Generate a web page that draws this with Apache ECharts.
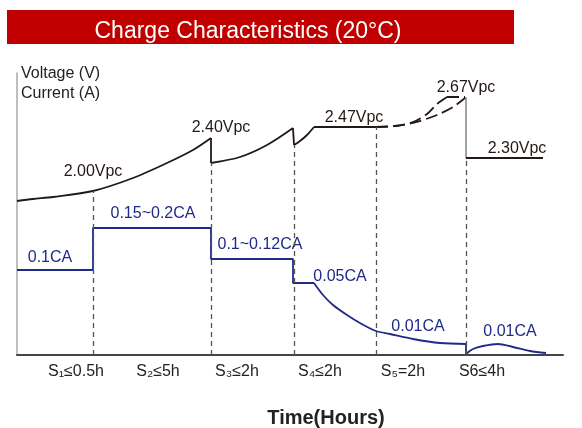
<!DOCTYPE html>
<html lang="en">
<head>
    <meta charset="UTF-8">
    <title>Charge Characteristics</title>
    <script src="https://cdn.jsdelivr.net/npm/echarts@6/dist/echarts.min.js"></script>
</head>
<style>
    html, body {
        margin: 0;
        background-color: #FFFFFF;
    }
</style>
<body>
<div id="main" style="width: 582px;height:428px;"></div>
<script>
    // stage labels and where they sit on the (schematic) time axis
    var stageNames = ['S₁≤0.5h', 'S₂≤5h', 'S₃≤2h', 'S₄≤2h', 'S₅=2h', 'S6≤4h'];
    var stageLabelPos = [59, 141, 220, 303, 386, 465];
    // stage boundaries (dashed) : [time, height of voltage curve there]
    var stageEdges = [[76, 164], [194, 192], [277, 210], [359, 228], [449, 197]];

    // voltage curve, piece by piece
    var voltS1S2 = [[0, 154], [16, 156], [36, 158], [76, 164], [116, 177], [150, 192], [176, 205], [194, 217]];
    var voltS3 = [[194, 192], [223, 198], [250, 210], [276, 227]];
    var voltS4rise = [[277, 210], [283, 214], [290, 220], [297, 228]];
    var voltS4flat = [[297, 228], [359, 228]];
    var voltS5a = [[359, 228], [378, 229], [396, 233], [410, 241], [420, 251], [430, 258]];
    var voltS5aTop = [[430, 258], [448, 258]];
    var voltS5b = [[359, 228], [378, 229], [396, 232], [420, 240], [436, 248], [448, 257]];
    var voltDrop = [[449, 258], [449, 197]];
    var voltS6 = [[449, 197], [526, 197]];

    // current curve
    var currStep = [[0, 85], [76, 85], [76, 127], [194, 127], [194, 96], [276, 96], [276, 72], [297, 72]];
    var currDecay = [[297, 72], [306, 60], [316, 50], [330, 40], [343, 32], [359, 24], [373, 21], [396, 16], [423, 12], [449, 11]];
    var currFloat = [[449, 1], [456, 6], [466, 9], [481, 11], [496, 8], [513, 4], [529, 2]];

    var voltNotes = [['2.00Vpc', 76, 183], ['2.40Vpc', 204, 227], ['2.47Vpc', 337, 237], ['2.67Vpc', 449, 267], ['2.30Vpc', 500, 206]];
    var currNotes = [['0.1CA', 33, 97], ['0.15~0.2CA', 136, 141], ['0.1~0.12CA', 243, 110], ['0.05CA', 323, 78], ['0.01CA', 401, 28], ['0.01CA', 493, 23]];

    var black = '#231815';
    var blue = '#1f2a8a';
    var font = '"Liberation Sans", Arial, sans-serif';

    var myChart = echarts.init(document.getElementById('main'));

    function seg(data, color, dashed, width) {
        return {
            type: 'line',
            data: data,
            smooth: 0.3,
            symbol: 'none',
            silent: true,
            lineStyle: {color: color, width: width || 1.8, type: dashed ? [12, 5] : 'solid'}
        };
    }
    function straight(data, color, dashed, width) {
        var s = seg(data, color, dashed, width);
        s.smooth = false;
        return s;
    }
    function notes(list, color) {
        return {
            type: 'scatter',
            symbolSize: 0,
            silent: true,
            itemStyle: {opacity: 1},
            data: list.map(function (n) { return {name: n[0], value: [n[1], n[2]]}; }),
            label: {
                show: true,
                position: 'inside',
                formatter: '{b}',
                color: color,
                fontFamily: font,
                fontSize: 16
            }
        };
    }

    var series = [
        seg(voltS1S2, black),
        straight([[194, 217], [194, 192]], black),
        seg(voltS3, black),
        straight([[276, 227], [277, 210]], black),
        seg(voltS4rise, black),
        straight(voltS4flat, black),
        seg(voltS5a, black, true),
        straight(voltS5aTop, black, true),
        seg(voltS5b, black, true),
        straight(voltDrop, '#444', false, 1),
        straight(voltS6, black),
        straight(currStep, blue),
        seg(currDecay, blue),
        straight([[449, 11], [449, 1]], blue),
        seg(currFloat, blue),
        notes(voltNotes, black),
        notes(currNotes, blue)
    ];
    // dashed stage boundaries
    series[0].markLine = {
        symbol: 'none',
        silent: true,
        label: {show: false},
        lineStyle: {color: '#555', width: 1.3, type: [5, 4]},
        data: stageEdges.map(function (e) {
            return [{coord: [e[0], 0]}, {coord: [e[0], e[1]]}];
        })
    };

    var option = {
        animation: false,
        title: {
            text: 'Charge Characteristics (20°C)',
            left: 243,
            top: 27,
            textAlign: 'center',
            textVerticalAlign: 'middle',
            textStyle: {color: '#FFF', fontFamily: font, fontWeight: 'normal', fontSize: 23}
        },
        graphic: [{
            type: 'rect',
            z: -1,
            shape: {x: 7, y: 10, width: 507, height: 34},
            style: {fill: '#c00000'}
        }],
        grid: {left: 17, right: 19, top: 73, bottom: 73, outerBoundsMode: 'none'},
        xAxis: {
            type: 'value',
            min: 0,
            max: 546,
            name: 'Time(Hours)',
            nameLocation: 'middle',
            nameGap: 53,
            nameTextStyle: {color: '#222', fontFamily: font, fontWeight: 'bold', fontSize: 20, padding: [0, 0, 0, 72]},
            splitLine: {show: false},
            axisTick: {show: false},
            axisLine: {lineStyle: {color: '#444', width: 2}},
            axisLabel: {
                customValues: stageLabelPos,
                formatter: function (v) { return stageNames[stageLabelPos.indexOf(v)]; },
                color: '#222',
                fontFamily: font,
                fontSize: 16,
                margin: 9
            }
        },
        yAxis: {
            type: 'value',
            min: 0,
            max: 282,
            name: 'Voltage (V)\nCurrent (A)',
            nameLocation: 'end',
            nameGap: 9,
            nameTextStyle: {align: 'left', verticalAlign: 'top', color: '#222', fontFamily: font, fontSize: 16, lineHeight: 20, padding: [0, 0, 0, 4]},
            splitLine: {show: false},
            axisTick: {show: false},
            axisLabel: {show: false},
            axisLine: {show: true, lineStyle: {color: '#aaa', width: 1.5}}
        },
        series: series
    };

    myChart.setOption(option);
</script>
</body>
</html>
